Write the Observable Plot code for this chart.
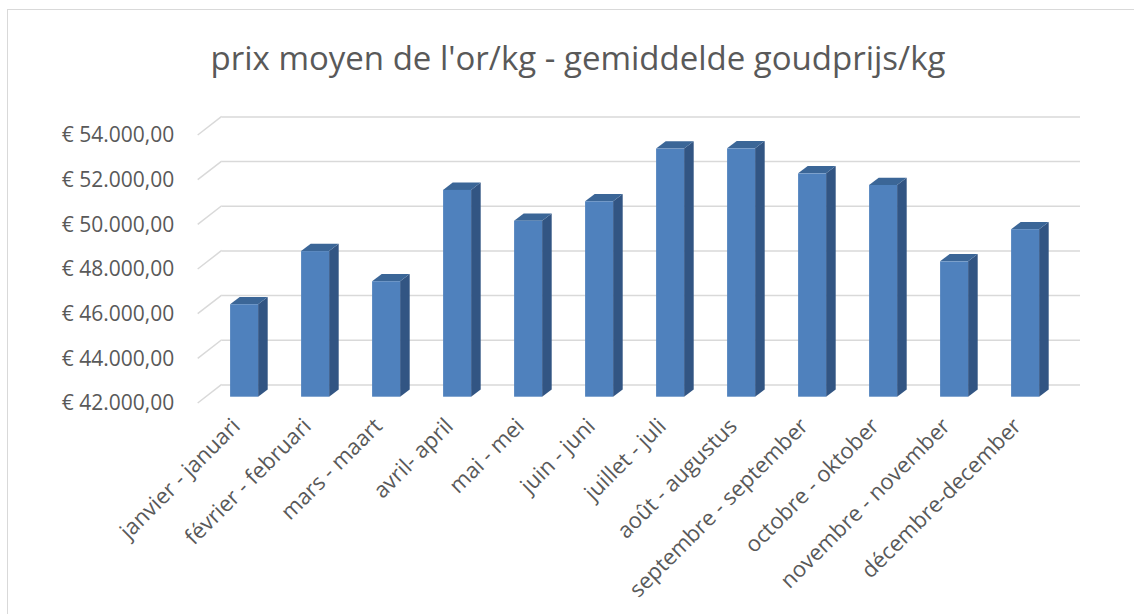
<!DOCTYPE html>
<html>
<head>
<meta charset="utf-8">
<script src="https://cdn.jsdelivr.net/npm/d3@7"></script>
<script src="https://cdn.jsdelivr.net/npm/@observablehq/plot@0.6"></script>
<style>
  html, body { margin: 0; padding: 0; background: #fff; }
  #wrap { position: relative; width: 1134px; height: 614px; overflow: hidden; font-family: "Open Sans", sans-serif; }
  #frame { position: absolute; left: 7px; top: 9px; width: 1200px; height: 700px; border: 1.5px solid #d9d9d9; box-sizing: border-box; pointer-events: none; }
  #title { position: absolute; left: 0; width: 1156px; top: 35px; text-align: center; font-size: 33px; line-height: 45px; color: #595959; white-space: nowrap; }
  #chart { position: absolute; left: 0; top: 0; }
  #chart g[aria-label="x-axis tick label"] { font-size: 22px; }
</style>
</head>
<body>
<div id="wrap">
  <div id="frame"></div>
  <div id="title">prix moyen de l'or/kg - gemiddelde goudprijs/kg</div>
  <div id="chart"></div>
</div>
<script>
const months = [
  "janvier - januari", "février - februari", "mars - maart", "avril- april",
  "mai - mei", "juin - juni", "juillet - juli", "août - augustus",
  "septembre - september", "octobre - oktober", "novembre - november", "décembre-december"
];
const prices = [46140, 48520, 47170, 51260, 49880, 50750, 53110, 53120, 52000, 51480, 48060, 49500];
const yTicks = [42000, 44000, 46000, 48000, 50000, 52000, 54000];

const data = months.map((m, i) => ({month: m, price: prices[i]}));
const base = 42000;

// 3D geometry (pixels)
const wallDX = 24, wallDY = -18.6;     // depth of floor/back wall
const barDX0 = 8.1, barDY0 = -6.3;     // front face of bars offset from front plane
const barDX = 9.6, barDY = -7.3;       // bar depth

const fmt = v => "€ " + d3.format(",.2f")(v).replace(/,/g, "#").replace(".", ",").replace(/#/g, ".");

const FRONT = "#4f81bd", SIDE = "#325583", TOP = "#3b6697";

function faces(index, scales, values, dimensions) {
  const {x, y} = scales;
  const g = d3.create("svg:g");
  // left-wall diagonals
  for (const t of yTicks) {
    const x0 = dimensions.marginLeft, y0 = y(t);
    g.append("line")
      .attr("x1", x0).attr("y1", y0)
      .attr("x2", x0 + wallDX).attr("y2", y0 + wallDY)
      .attr("stroke", "#d9d9d9").attr("stroke-width", 1.5);
  }
  // bar side and top faces
  for (const d of data) {
    const xl = x(d.month) + barDX0, xr = xl + x.bandwidth();
    const yb = y(base) + barDY0, yt = y(d.price) + barDY0;
    g.append("path")
      .attr("d", `M${xr},${yt}L${xr + barDX},${yt + barDY}L${xr + barDX},${yb + barDY}L${xr},${yb}Z`)
      .attr("fill", SIDE);
    g.append("path")
      .attr("d", `M${xl},${yt}L${xl + barDX},${yt + barDY}L${xr + barDX},${yt + barDY}L${xr},${yt}Z`)
      .attr("fill", TOP);
  }
  return g.node();
}

const chart = Plot.plot({
  width: 1134,
  height: 614,
  marginLeft: 197.7,
  marginRight: 78,
  marginTop: 135,
  marginBottom: 211,
  style: {fontFamily: "Open Sans, sans-serif", fontSize: "21px", color: "#595959", background: "transparent"},
  x: {domain: months, paddingInner: 0.6, paddingOuter: 0.3, label: null, tickSize: 0, tickRotate: -45, tickPadding: 19},
  y: {domain: [42000, 54000], ticks: yTicks, tickFormat: fmt, label: null, tickSize: 0, tickPadding: 24},
  marks: [
    Plot.ruleY(yTicks, {dx: wallDX, dy: wallDY, stroke: "#d9d9d9", strokeWidth: 1.5, strokeOpacity: 1}),
    faces,
    Plot.barY(data, {x: "month", y1: base, y2: "price", dx: barDX0, dy: barDY0, fill: FRONT})
  ]
});
document.getElementById("chart").appendChild(chart);
</script>
</body>
</html>
